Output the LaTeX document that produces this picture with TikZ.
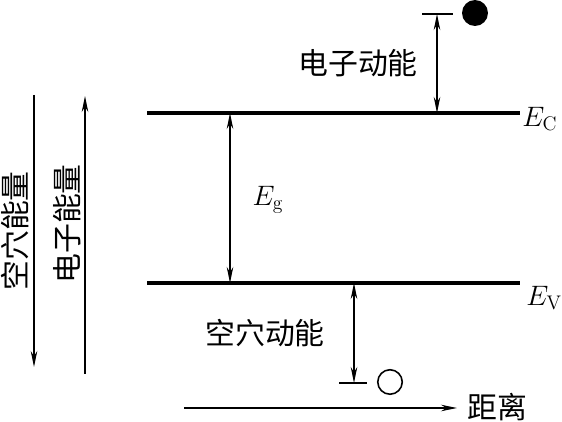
\RequirePackage{fix-cm}
\documentclass[tikz,border=0pt]{standalone}
\usepackage{fontspec}
\newfontfamily\cjk{Noto Sans CJK SC}
\usetikzlibrary{arrows.meta,positioning,calc}
\tikzset{
    levelline/.style={line width=2pt},
    energyarrow/.style={{Stealth[length=3.2mm,width=1.3mm]}-{Stealth[length=3.2mm,width=1.3mm]}, line width=0.9pt},
    axisarrow/.style={-{Stealth[length=3.2mm,width=1.3mm]}, line width=0.9pt},
    tickline/.style={line width=0.9pt},
    cjklabel/.style={font=\cjk\fontsize{17}{19}\selectfont, inner sep=0pt},
    levellabel/.style={font=\fontsize{16}{18}\selectfont, inner sep=0pt},
    electron/.style={circle, fill, inner sep=0pt, minimum size=5.2mm},
    hole/.style={circle, draw, line width=0.9pt, inner sep=0pt, minimum size=4.9mm}
}

\begin{document}
\begin{tikzpicture}[x=0.02cm,y=-0.02cm]
\useasboundingbox (0,0) rectangle (562,422);
% band edges
\coordinate (ecl) at (147,113);
\coordinate (ecr) at (520,113);
\coordinate (evl) at (147,283);
\coordinate (evr) at (520,283);
\draw[levelline] (ecl) -- (ecr);
\draw[levelline] (evl) -- (evr);
\node[levellabel, anchor=west] (ec) at (522,119) {$E_{\mathrm{C}}$};
\node[levellabel, anchor=west] (ev) at (526,298) {$E_{\mathrm{V}}$};
% gap
\coordinate (gtop) at (230,113);
\coordinate (gbot) at (230,283);
\draw[energyarrow] (gtop) -- (gbot);
\node[levellabel] (eg) at (268,200) {$E_{\mathrm{g}}$};
% electron
\node[electron] (el) at (475,13) {};
\coordinate (elta) at (422,14);
\coordinate (eltb) at (453,14);
\coordinate (elk) at (437,14);
\coordinate (elc) at (437,113);
\draw[tickline] (elta) -- (eltb);
\draw[energyarrow] (elk) -- (elc);
\node[cjklabel] (ke) at (358,63) {电子动能};
% hole
\node[hole] (ho) at (390,382) {};
\coordinate (hota) at (339,383);
\coordinate (hotb) at (367,383);
\coordinate (hok) at (354,383);
\coordinate (hov) at (354,283);
\draw[tickline] (hota) -- (hotb);
\draw[energyarrow] (hov) -- (hok);
\node[cjklabel] (kh) at (265,333) {空穴动能};
% axes
\coordinate (d0) at (184,408);
\coordinate (d1) at (457,408);
\draw[axisarrow] (d0) -- (d1);
\node[cjklabel] (dist) at (497,407) {距离};
\coordinate (h0) at (34,95);
\coordinate (h1) at (34,367);
\draw[axisarrow] (h0) -- (h1);
\node[cjklabel, rotate=90] (he) at (15,231) {空穴能量};
\coordinate (e0) at (85,374);
\coordinate (e1) at (85,96);
\draw[axisarrow] (e0) -- (e1);
\node[cjklabel, rotate=90] (ee) at (67,224) {电子能量};
\end{tikzpicture}
\end{document}
